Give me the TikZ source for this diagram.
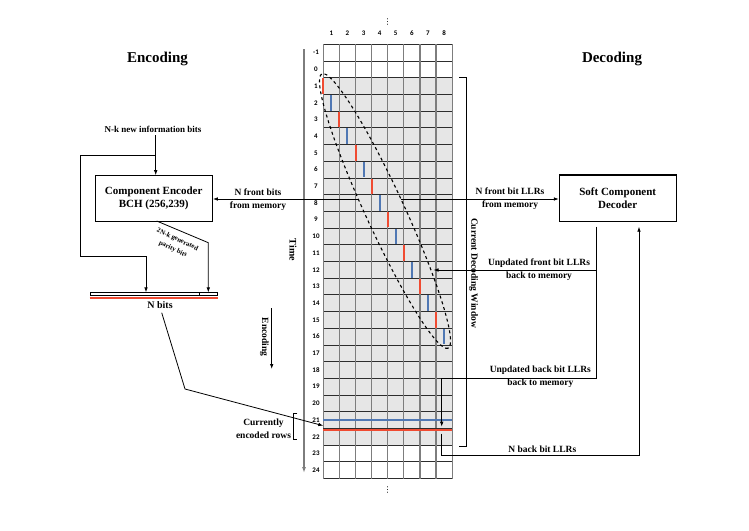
\documentclass[tikz,border=0pt]{standalone}
\usepackage{fontspec}
\setmainfont{Liberation Serif}
\newfontfamily\numfont{Carlito}
\newfontfamily\symfont{DejaVu Sans}
\usetikzlibrary{arrows.meta,shapes.geometric,calc}
\definecolor{cellgray}{RGB}{230,230,230}
\definecolor{barred}{RGB}{240,75,50}
\definecolor{barblue}{RGB}{80,120,180}
\definecolor{gridv}{RGB}{125,125,125}
\definecolor{gridh}{RGB}{45,45,45}
\begin{document}
\begin{tikzpicture}[x=1pt,y=-1pt,
  arr/.style={-{Latex[length=5pt,width=3.6pt]}, line width=0.8pt},
  conn/.style={line width=0.8pt},
  box/.style={draw, line width=1.1pt, align=center, inner sep=0,
    font=\bfseries\fontsize{11}{12.8}\selectfont},
  lbl/.style={align=center, inner sep=0, font=\bfseries\fontsize{9.5}{13}\selectfont},
  title/.style={inner sep=0, font=\bfseries\fontsize{15}{17}\selectfont},
  num/.style={inner sep=0, font=\numfont\bfseries\fontsize{7}{8}\selectfont},
  dots/.style={inner sep=0, font=\symfont\fontsize{8}{8}\selectfont},
  vline/.style={gridv, line width=1.2pt},
  hline/.style={gridh, line width=0.8pt},
  brk/.style={line width=0.9pt}]
\useasboundingbox (0,0) rectangle (749,530);
\fill[white] (0,0) rectangle (749,530);

% ---- grid ----
\fill[cellgray] (323.3,77.7) rectangle (452.1,445.1);
\foreach \i in {0,...,26}
  \draw[hline] (323.3,{44.3+16.7*\i}) -- (452.1,{44.3+16.7*\i});
\foreach \j in {0,...,8}
  \draw[vline] ({323.3+16.1*\j},44.3) -- ({323.3+16.1*\j},478.5);
% column labels
\foreach \j in {1,...,8}
  \node[num] (col\j) at ({323.3+16.1*(\j-0.5)},33) {\j};
% row labels
\foreach \r [count=\k from 0] in {-1,0,1,2,3,4,5,6,7,8,9,10,11,12,13,14,15,16,17,18,19,20,21,22,23,24}
  \node[num] (row\k) at (316,{44.3+16.7*(\k+0.5)}) {\r};
\node[dots] (dtop) at (387.7,22) {⋮};
\node[dots] (dbot) at (387.7,490) {⋮};

% currently encoded rows lines
\draw[barblue, line width=1.1pt] (323.3,420) -- (452.1,420);
\draw[gridh, line width=1.1pt] (323.3,428.4) -- (452.1,428.4);
\draw[barred, line width=1.8pt] (323.3,430.2) -- (452.1,430.2);

% decoding window ellipse
\draw[line width=1.1pt, dash pattern=on 3pt off 3pt, rotate around={-65.3:(385,211)}]
  (385,211) ellipse [x radius=151, y radius=19.5];

% time axis
\coordinate (t0) at (304,49);
\coordinate (t1) at (304,473);
\draw[gridv, line width=1.4pt, -{Latex[length=6pt,width=4pt,fill=black!80]}] (t0) -- (t1);
\node[lbl, rotate=-90, font=\bfseries\fontsize{10}{12}\selectfont] (time) at (293,250) {Time};

% encoding arrow
\coordinate (e0) at (271.7,308);
\coordinate (e1) at (271.7,369);
\draw[arr] (e0) -- (e1);
\node[lbl, rotate=-90] (enclbl) at (264.3,337) {Encoding};

% brackets
\coordinate (lb0) at (297.3,413.3);
\coordinate (lb1) at (297.3,439.3);
\draw[brk] (lb0) -- ++(-4,0) |- (lb1);
\coordinate (rb0) at (459,77.7);
\coordinate (rb1) at (459,446);
\draw[brk] (rb0) -- ++(7.5,0) |- (rb1);
\node[lbl] (cur) at (263.5,428.5) {Currently\\encoded rows};
\node[lbl, rotate=-90] (cdw) at (473.5,273) {Current Decoding Window};

% titles
\node[title] (enctitle) at (157.5,59) {Encoding};
\node[title] (dectitle) at (612,59) {Decoding};

% encoder
\node[box, minimum width=117.3pt, minimum height=45.3pt] (enc) at (153.7,198.4)
  {Component Encoder\\BCH (256,239)};
\node[lbl, font=\bfseries\fontsize{9}{11}\selectfont] (nk) at (153,129) {N-k new information bits};
\coordinate (nk0) at (155.7,135);
\draw[arr] (nk0) -- (nk0 |- enc.north);
\coordinate (br) at (155.7,155);
\coordinate (l1) at (80,256.7);
\coordinate (b1) at (146,256.7);

\node[draw, line width=0.6pt, fill=white, minimum width=127.3pt, minimum height=3pt,
  inner sep=0] (bar) at (153.65,294.2) {};
\coordinate (dv) at (199.3,0);
\draw[line width=0.5pt] (bar.north -| dv) -- (bar.south -| dv);
\draw[barred, line width=2pt] ($(bar.south west)+(0,2)$) -- ($(bar.south east)+(0,2)$);
\node[lbl, font=\bfseries\fontsize{10}{12}\selectfont] (nbits) at (160,305) {N bits};

\draw[arr] (br) -| (l1) -- (b1) -- (b1 |- bar.north);
\coordinate (p0) at (156.7,221);
\coordinate (p1) at (208.3,242.7);
\draw[arr] (p0) -- (p1) -- (p1 |- bar.north);
\node[align=center, inner sep=0, rotate=-25, font=\bfseries\fontsize{6.8}{10.5}\selectfont]
  (par) at (175.2,244.5) {2N-k generated\\parity bits};

% N front bits from memory
\coordinate (fl) at (358,199);
\draw[arr] (fl) -- (fl -| enc.east);
\node[lbl] (nfb) at (258,199.7) {N front bits\\from memory};

% decoder
\node[box, minimum width=116.7pt, minimum height=46.7pt] (dec) at (617.7,198.3)
  {Soft Component\\Decoder};
\coordinate (fr) at (401,199);
\draw[arr] (fr) -- (fr -| dec.west);
\node[lbl] (nfbl) at (510,198.3) {N front bit LLRs\\from memory};

\coordinate (d1) at (596.7,226.7);
\coordinate (d2) at (596.7,270);
\coordinate (d3) at (596.7,378.3);
\coordinate (ftip) at (433.5,270);
\coordinate (bb1) at (441.7,378.3);
\coordinate (bb2) at (441.7,426.7);
\draw[conn] (d1) -- (d3) -- (bb1);
\draw[arr] (bb1) -- (bb2);
\draw[arr] (d2) -- (ftip);
\node[lbl] (uf) at (539,270) {Unpdated front bit LLRs\\back to memory};
\node[lbl] (ub) at (540.3,377) {Unpdated back bit LLRs\\back to memory};

\coordinate (nb0) at (441.7,433.5);
\coordinate (nb1) at (639,455);
\coordinate (nb2) at (639,226.7);
\draw[arr] (nb0) |- (nb1) -- (nb2);
\node[lbl] (nbl) at (542.3,449) {N back bit LLRs};

% currently encoded arrow
\coordinate (c0) at (161.7,312.7);
\coordinate (c1) at (185,389);
\coordinate (c2) at (323.3,425.7);
\draw[arr] (c0) -- (c1) -- (c2);

% red / blue bars (filled strips)
\foreach \r in {1,3,...,15}
  \fill[barred] ({323.3+(\r-1)*8.05-1},{44.3+16.7*(\r+1)+0.6}) rectangle ++(2,15.5);
\foreach \r in {2,4,...,16}
  \fill[barblue] ({323.3+(\r-1)*8.05-1},{44.3+16.7*(\r+1)+0.6}) rectangle ++(2,15.5);
\end{tikzpicture}
\end{document}
